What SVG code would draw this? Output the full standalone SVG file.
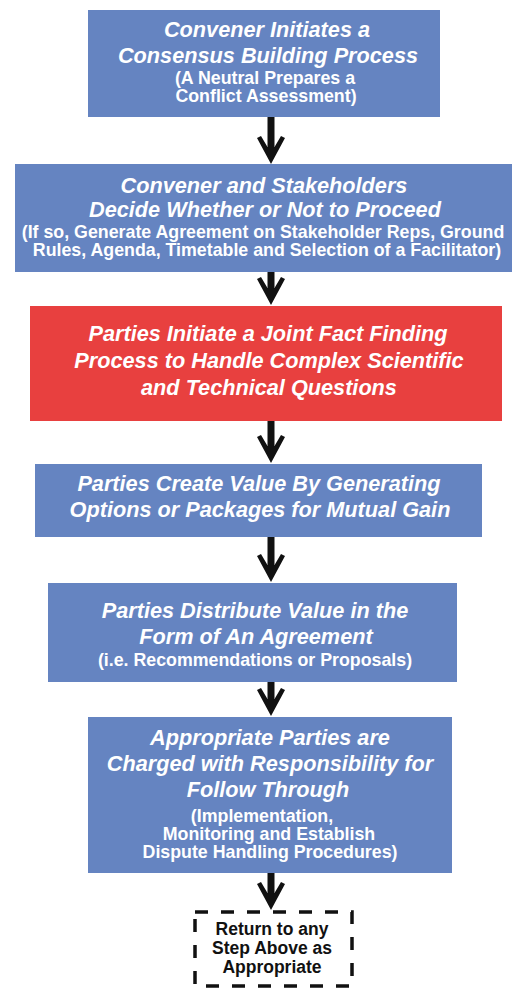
<svg xmlns="http://www.w3.org/2000/svg" width="515" height="988" viewBox="0 0 515 988">
  <style>
    .box { fill: #6584C1; }
    .red { fill: #E8403F; }
    .title { font-family: "Liberation Sans", Arial, sans-serif; font-size: 21.7px; font-weight: bold; font-style: italic; fill: #FFFFFF; text-anchor: middle; }
    .sub { font-family: "Liberation Sans", Arial, sans-serif; font-size: 17.8px; font-weight: bold; fill: #FFFFFF; text-anchor: middle; }
    .ret { font-family: "Liberation Sans", Arial, sans-serif; font-size: 17.5px; font-weight: bold; fill: #111111; text-anchor: middle; }
    .dash { fill: #FFFFFF; stroke: #111111; stroke-width: 3.5; stroke-dasharray: 13 13; }
    .conn { stroke: #111111; stroke-width: 7; fill: none; marker-end: url(#head); }
  </style>
  <defs>
    <marker id="head" viewBox="-2 -15 30 30" markerWidth="30" markerHeight="30" refX="15" refY="0" orient="auto" markerUnits="userSpaceOnUse">
      <polygon points="27,0 1,-14 -1,-10 10,-3.5 10,3.5 -1,10 1,14" fill="#111111"/>
    </marker>
  </defs>
  <rect width="515" height="988" fill="#FFFFFF"/>

  <g id="connectors">
    <line class="conn" x1="271" y1="117" x2="271" y2="152"/>
    <line class="conn" x1="271" y1="272" x2="271" y2="293"/>
    <line class="conn" x1="271" y1="421" x2="271" y2="451"/>
    <line class="conn" x1="271" y1="537" x2="271" y2="570"/>
    <line class="conn" x1="271" y1="682" x2="271" y2="704"/>
    <line class="conn" x1="271" y1="873" x2="271" y2="898"/>
  </g>

  <g id="n1">
    <rect class="box" x="88" y="10" width="352" height="107"/>
    <text class="title" x="267" y="37">Convener Initiates a</text>
    <text class="title" x="268" y="63">Consensus Building Process</text>
    <text class="sub" x="265" y="84">(A Neutral Prepares a</text>
    <text class="sub" x="266" y="102">Conflict Assessment)</text>
  </g>

  <g id="n2">
    <rect class="box" x="15" y="164" width="497" height="108"/>
    <text class="title" x="264" y="193">Convener and Stakeholders</text>
    <text class="title" x="265" y="217">Decide Whether or Not to Proceed</text>
    <text class="sub" x="263" y="238">(If so, Generate Agreement on Stakeholder Reps, Ground</text>
    <text class="sub" x="267" y="256">Rules, Agenda, Timetable and Selection of a Facilitator)</text>
  </g>

  <g id="n3">
    <rect class="red" x="30" y="306" width="472" height="115"/>
    <text class="title" x="268" y="341">Parties Initiate a Joint Fact Finding</text>
    <text class="title" x="269" y="368">Process to Handle Complex Scientific</text>
    <text class="title" x="269" y="395">and Technical Questions</text>
  </g>

  <g id="n4">
    <rect class="box" x="35" y="464" width="447" height="73"/>
    <text class="title" x="259" y="491">Parties Create Value By Generating</text>
    <text class="title" x="260" y="517">Options or Packages for Mutual Gain</text>
  </g>

  <g id="n5">
    <rect class="box" x="48" y="583" width="409" height="99"/>
    <text class="title" x="255" y="618">Parties Distribute Value in the</text>
    <text class="title" x="256" y="644">Form of An Agreement</text>
    <text class="sub" x="255" y="666">(i.e. Recommendations or Proposals)</text>
  </g>

  <g id="n6">
    <rect class="box" x="88" y="717" width="364" height="156"/>
    <text class="title" x="270" y="745">Appropriate Parties are</text>
    <text class="title" x="270" y="771">Charged with Responsibility for</text>
    <text class="title" x="268" y="797">Follow Through</text>
    <text class="sub" x="262" y="822">(Implementation,</text>
    <text class="sub" x="269" y="840">Monitoring and Establish</text>
    <text class="sub" x="270" y="858">Dispute Handling Procedures)</text>
  </g>

  <g id="n7">
    <rect class="dash" x="195" y="912" width="157" height="74"/>
    <text class="ret" x="272" y="935">Return to any</text>
    <text class="ret" x="272" y="954">Step Above as</text>
    <text class="ret" x="272" y="973">Appropriate</text>
  </g>
</svg>
